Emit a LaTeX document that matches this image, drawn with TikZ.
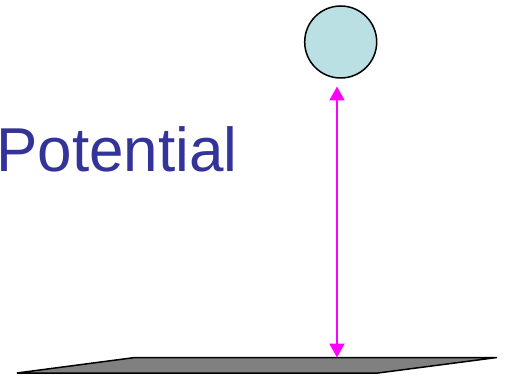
\documentclass[tikz,border=0pt]{standalone}
\usepackage{fontspec}
\setmainfont{Liberation Sans}
\usetikzlibrary{arrows.meta}
\definecolor{titleblue}{HTML}{333399}
\definecolor{ballfill}{HTML}{BBE0E3}
\definecolor{platefill}{HTML}{808080}
\definecolor{arrowpink}{HTML}{FF00FF}
\tikzset{
  ball/.style={circle, draw=black, line width=1.5pt, fill=ballfill, minimum size=72pt, inner sep=0pt},
  plate/.style={draw=black, line width=1.5pt, fill=platefill, line join=miter},
  heightarrow/.style={draw=arrowpink, fill=arrowpink, line width=2pt, {Triangle[width=15pt,length=14pt]}-{Triangle[width=15pt,length=14pt]}},
  titletext/.style={text=titleblue, font=\fontsize{62}{70}\selectfont, inner sep=0pt, anchor=base west}
}
\begin{document}
\begin{tikzpicture}[x=1pt,y=-1pt]
\useasboundingbox (0,0) rectangle (506,377);
\clip (0,0) rectangle (506,377);
\node[ball] (ball) at (340.7,42) {};
\coordinate (pa) at (135,357.5);
\coordinate (pb) at (497,357.5);
\coordinate (pc) at (378,373);
\coordinate (pd) at (17,373);
\draw[plate] (pa) -- (pb) -- (pc) -- (pd) -- cycle;
\coordinate (top) at (337,86.5);
\coordinate (bot) at (337,357.5);
\draw[heightarrow] (top) -- (bot);
\node[titletext] (title) at (-4,171.7) {Potential};
\end{tikzpicture}
\end{document}
